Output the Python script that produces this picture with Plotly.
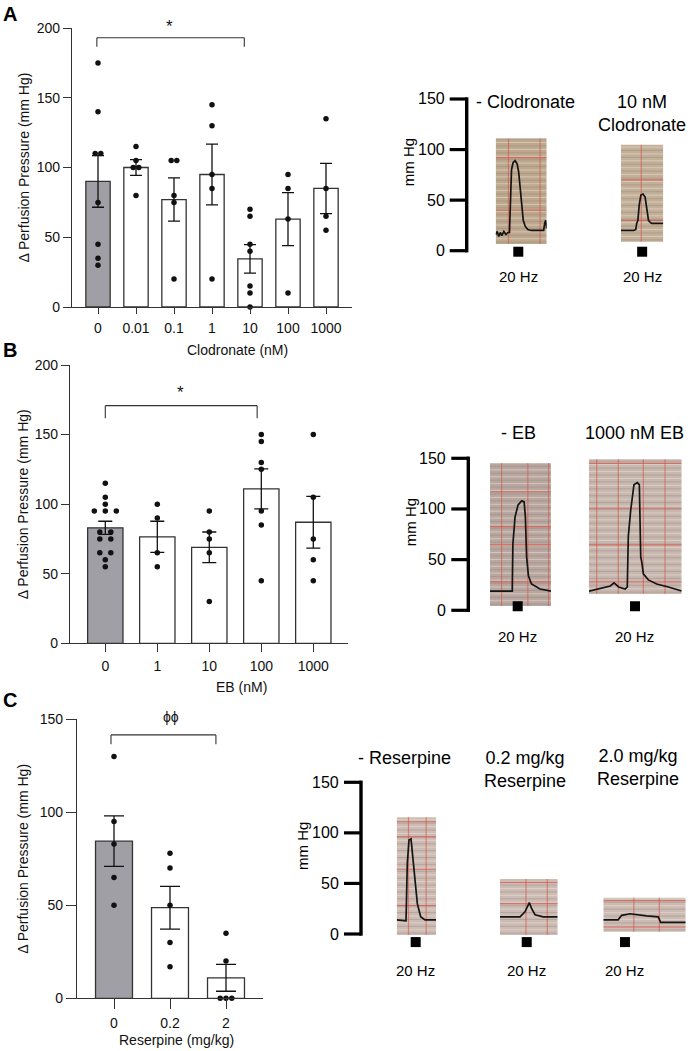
import plotly.graph_objects as go

W, H = 692, 1051
FONT = "Liberation Sans, Arial, Helvetica, sans-serif"
INK = "#111111"
EDGE = "#333333"
GRAY = "#a09fa6"

# --- Panel A: clodronate (nM) ---
clod_labels = ["0", "0.01", "0.1", "1", "10", "100", "1000"]
clod_mean = [90, 100, 77, 95, 34.5, 63, 85]
clod_sem = [18.5, 5.6, 15.5, 21.8, 10.2, 19, 18]
clod_points = [
    [175, 140, 110, 110, 75, 45, 35, 30],
    [115, 105, 100, 100, 80],
    [105, 105, 80, 75, 20],
    [145, 130, 95, 85, 20],
    [70, 65, 45, 40, 15, 10, 0],
    [95, 85, 63, 10],
    [135, 85, 65, 55],
]

# --- Panel B: EB (nM) ---
eb_labels = ["0", "1", "10", "100", "1000"]
eb_mean = [83, 76.5, 69, 111, 87]
eb_sem = [4.7, 11.2, 11, 14.4, 18.6]
eb_points = [
    [115, 105, 100, 95, 95, 95, 80, 80, 75, 75, 65, 65, 60, 55],
    [100, 90, 65, 55],
    [95, 80, 75, 65, 30],
    [150, 145, 130, 125, 95, 85, 45],
    [150, 105, 75, 60, 45],
]

# --- Panel C: reserpine (mg/kg) ---
res_labels = ["0", "0.2", "2"]
res_mean = [84.5, 48.7, 11]
res_sem = [13.6, 11.5, 7.2]
res_points = [
    [130, 95, 83, 65, 50],
    [78, 70, 50, 30, 17],
    [35, 20, 0, 0, 0],
]

# --- recorder traces (t = fraction of strip width, p = mm Hg) ---
a1_t = [0.00, 0.03, 0.06, 0.09, 0.12, 0.16, 0.20, 0.24, 0.27, 0.29, 0.31, 0.34, 0.38,
        0.42, 0.45, 0.48, 0.51, 0.54, 0.58, 0.63, 0.70, 0.80, 0.90, 0.94, 0.96, 0.98, 1.00]
a1_p = [16, 19, 14, 18, 15, 19, 16, 18, 18, 50, 80, 87, 89,
        86, 78, 62, 42, 30, 24, 21, 20, 20, 20, 20, 27, 30, 22]
a2_t = [0, 0.1, 0.2, 0.3, 0.35, 0.37, 0.40, 0.43, 0.47, 0.52, 0.57, 0.61, 0.65, 0.69, 0.73, 0.8, 0.9, 1.0]
a2_p = [20, 20, 20, 20, 21, 27, 30, 45, 55, 56, 53, 40, 30, 28, 27, 27, 27, 27]
b1_t = [0, 0.15, 0.30, 0.365, 0.375, 0.39, 0.41, 0.46, 0.52, 0.56, 0.58, 0.60, 0.63, 0.68, 0.82, 1.0]
b1_p = [19, 19, 19, 19, 65, 82, 92, 104, 108, 107, 92, 53, 34, 26, 21, 19]
b2_t = [0, 0.12, 0.23, 0.27, 0.32, 0.39, 0.413, 0.424, 0.45, 0.485, 0.521, 0.543,
        0.558, 0.572, 0.586, 0.64, 0.73, 0.856, 1.0]
b2_p = [19, 22, 24, 27, 23, 21, 23, 73, 99, 124, 126, 124, 53, 46, 36, 30, 26, 23, 19]
c1_t = [0, 0.237, 0.27, 0.313, 0.364, 0.407, 0.466, 0.525, 0.61, 0.72, 1.0]
c1_p = [14, 13, 70, 93, 94, 76, 53, 30, 17, 14, 14]
c2_t = [0, 0.347, 0.433, 0.508, 0.549, 0.607, 0.75, 1.0]
c2_p = [17, 17, 22, 31, 25, 19, 17, 17]
c3_t = [0, 0.18, 0.223, 0.324, 0.526, 0.667, 0.696, 1.0]
c3_p = [14, 14, 18.5, 20, 18, 17, 11.5, 11.5]

strip_titles = ["- Clodronate", "10 nM<br>Clodronate", "- EB", "1000 nM EB",
                "- Reserpine", "0.2 mg/kg<br>Reserpine", "2.0 mg/kg<br>Reserpine"]
stim_t = [0.443, 0.50, 0.454, 0.496, 0.483, 0.463, 0.263]
stim_label = "20 Hz"
scale_ticks = [0, 50, 100, 150]


def xdom(x0, x1):
    return [x0 / W, x1 / W]


def ydom(yb, yt):
    return [1 - yb / H, 1 - yt / H]


def jitter(vals, step):
    offs = []
    for i, v in enumerate(vals):
        same = [j for j, u in enumerate(vals) if u == v]
        offs.append((same.index(i) - (len(same) - 1) / 2) * step)
    return offs


fig = go.Figure()
layout = {}
annots = []
shapes = []

# ---------------- bar panels ----------------
bar_panels = [
    dict(n=1, labels=clod_labels, means=clod_mean, sems=clod_sem, points=clod_points,
         box=(72, 352, 307, 28), cat0=98, pitch=38, ymax=200, barw=0.64, cap=6, dot=5.6,
         tlx=6, tly=8, xtitle="Clodronate (nM)", xt=(237.5, 349.5)),
    dict(n=2, labels=eb_labels, means=eb_mean, sems=eb_sem, points=eb_points,
         box=(70, 348, 643.3, 365), cat0=105.3, pitch=52, ymax=200, barw=0.68, cap=7, dot=11,
         tlx=8, tly=8, xtitle="EB (nM)", xt=(241.7, 687)),
    dict(n=3, labels=res_labels, means=res_mean, sems=res_sem, points=res_points,
         box=(77, 263, 998.3, 719.3), cat0=114, pitch=56, ymax=150, barw=0.66, cap=10, dot=5.8,
         tlx=10, tly=10, xtitle="Reserpine (mg/kg)", xt=(176.7, 1040)),
]

for bp in bar_panels:
    k = bp["n"]
    sfx = "" if k == 1 else str(k)
    xa, ya = "x" + sfx, "y" + sfx
    n = len(bp["labels"])
    x0, x1, yb, yt = bp["box"]
    fig.add_trace(go.Bar(
        x=list(range(n)), y=bp["means"], width=bp["barw"],
        marker=dict(color=[GRAY] + ["white"] * (n - 1), line=dict(color=EDGE, width=1.3)),
        error_y=dict(type="data", array=bp["sems"], visible=True, color=INK,
                     thickness=1.3, width=bp["cap"]),
        xaxis=xa, yaxis=ya, showlegend=False, hoverinfo="skip"))
    xs, ys = [], []
    for i, vals in enumerate(bp["points"]):
        for off, v in zip(jitter(vals, bp["dot"] / bp["pitch"]), vals):
            xs.append(i + off)
            ys.append(v)
    fig.add_trace(go.Scatter(x=xs, y=ys, mode="markers", marker=dict(size=5.5, color=INK),
                             cliponaxis=False, xaxis=xa, yaxis=ya, showlegend=False,
                             hoverinfo="skip"))
    r0 = -(bp["cat0"] - x0) / bp["pitch"]
    r1 = (x1 - bp["cat0"]) / bp["pitch"]
    layout["xaxis" + sfx] = dict(
        domain=xdom(x0, x1), range=[r0, r1], anchor=ya, automargin=False,
        tickvals=list(range(n)), ticktext=bp["labels"], ticks="outside",
        ticklen=bp["tlx"], tickwidth=1.2, tickcolor=EDGE, showline=True,
        linecolor=EDGE, linewidth=1.2, showgrid=False, zeroline=False,
        tickfont=dict(size=14, color=INK), ticklabelstandoff=2, fixedrange=True)
    layout["yaxis" + sfx] = dict(
        domain=ydom(yb, yt), range=[0, bp["ymax"]], anchor=xa, automargin=False,
        tickvals=list(range(0, bp["ymax"] + 1, 50)), ticks="outside",
        ticklen=bp["tly"], tickwidth=1.2, tickcolor=EDGE, showline=True,
        linecolor=EDGE, linewidth=1.2, showgrid=False, zeroline=False,
        tickfont=dict(size=14, color=INK), fixedrange=True)
    annots.append(dict(text="\u0394 Perfusion Pressure (mm Hg)", xref="paper", yref="paper",
                       x=23 / W, y=1 - (yb + yt) / 2 / H, textangle=-90, showarrow=False,
                       font=dict(size=14, color=INK), xanchor="center", yanchor="middle"))
    annots.append(dict(text=bp["xtitle"], xref="paper", yref="paper",
                       x=bp["xt"][0] / W, y=1 - bp["xt"][1] / H, showarrow=False,
                       font=dict(size=14, color=INK), xanchor="center", yanchor="middle"))

# significance brackets: (axis suffix, x0, x1, y, drop, label, label x, label y, size)
brackets = [
    ("", -0.03, 3.85, 193, 6.5, "*", 1.87, 201, 17),
    ("2", 0.0, 2.92, 170.8, 9, "*", 1.44, 180, 17),
    ("3", -0.054, 1.82, 141.6, 5, "\u03d5\u03d5", 1.01, 151.4, 14),
]
ymax_of = {"": 200, "2": 200, "3": 150}
for sfx, bx0, bx1, by, drop, lab, lx, ly, fs in brackets:
    xr, yr = "x" + sfx, "y" + sfx
    for a, b, c, d in [(bx0, by, bx1, by), (bx0, by, bx0, by - drop), (bx1, by, bx1, by - drop)]:
        shapes.append(dict(type="line", xref=xr, yref=yr, x0=a, y0=b, x1=c, y1=d,
                           line=dict(color=EDGE, width=1.1)))
    # label may sit above the axis range, so place it on the axis domain
    annots.append(dict(text=lab, xref=xr, yref=yr + " domain", x=lx, y=ly / ymax_of[sfx],
                       showarrow=False, font=dict(size=fs, color=INK),
                       xanchor="center", yanchor="middle"))

# panel letters
for lab, yc in [("A", 13.5), ("B", 349.7), ("C", 700)]:
    annots.append(dict(text="<b>%s</b>" % lab, xref="paper", yref="paper", x=1 / W,
                       y=1 - yc / H, showarrow=False, font=dict(size=20, color="black"),
                       xanchor="left", yanchor="middle"))

# ---------------- recorder strips ----------------
# zero / 150 pixel rows of each mm Hg scale bar and the extended row box
rows = {
    4: dict(zero=250.7, top150=99, box=(300, 80), xpos=466.7, mmhg_x=408.5, stim_y=-1, hz_y=-26),
    5: dict(zero=610.3, top150=458.3, box=(660, 415), xpos=468.3, mmhg_x=410, stim_y=4, hz_y=-26),
    6: dict(zero=934, top150=782.3, box=(1000, 740), xpos=361, mmhg_x=302, stim_y=-8, hz_y=-36.5),
}
for r, cfg in rows.items():
    ppu = (cfg["zero"] - cfg["top150"]) / 150.0
    yb, yt = cfg["box"]
    layout["yaxis%d" % r] = dict(
        domain=ydom(yb, yt), range=[(cfg["zero"] - yb) / ppu, (cfg["zero"] - yt) / ppu],
        anchor="free", position=0, visible=False, fixedrange=True, automargin=False)
    yr = "y%d" % r
    xp = cfg["xpos"] / W
    half = 1.7 / ppu
    shapes.append(dict(type="line", xref="paper", yref=yr, x0=xp, x1=xp,
                       y0=scale_ticks[0] - half, y1=scale_ticks[-1] + half,
                       line=dict(color="black", width=3.4)))
    for tv in scale_ticks:
        shapes.append(dict(type="line", xref="paper", yref=yr, x0=(cfg["xpos"] - 17) / W,
                           x1=xp, y0=tv, y1=tv, line=dict(color="black", width=3.2)))
        annots.append(dict(text=str(tv), xref="paper", yref=yr, x=(cfg["xpos"] - 20) / W,
                           y=tv, showarrow=False, font=dict(size=16, color="black"),
                           xanchor="right", yanchor="middle"))
    annots.append(dict(text="mm Hg", xref="paper", yref=yr, x=cfg["mmhg_x"] / W,
                       y=87, textangle=-90, showarrow=False, font=dict(size=15, color="black"),
                       xanchor="center", yanchor="middle"))

strips = [
    dict(row=4, xa=4, px=(495.7, 546.7), bot=6.6, top=111, fill="#bba88f",
         vl=[0.25, 0.87], hl=[92, 40], title=(0.584, 147)),
    dict(row=4, xa=5, px=(621, 663.3), bot=8.9, top=104.7, fill="#c1b09a",
         vl=[0.48], hl=[70, 30], title=(0.5, 135.6)),
    dict(row=5, xa=6, px=(490, 551), bot=4.2, top=145.2, fill="#b7a7a1",
         vl=[0.19, 0.62, 0.96], hl=[117, 82.5, 64.5, 28], title=(0.46, 175)),
    dict(row=5, xa=7, px=(589, 681.7), bot=16.1, top=149, fill="#c6b8b0",
         vl=[0.083, 0.316, 0.586, 0.82], hl=[145, 100.7, 64.5, 28], title=(0.496, 175)),
    dict(row=6, xa=8, px=(396.7, 436), bot=-1, top=115.4, fill="#cbbcb5",
         vl=[0.3, 0.75], hl=[111, 96, 64, 28], title=(0.21, 173.8)),
    dict(row=6, xa=9, px=(500, 557.7), bot=-1, top=54.4, fill="#cbbcb5",
         vl=[0.45, 0.82], hl=[51, 30], title=(0.433, 162.5)),
    dict(row=6, xa=10, px=(603.3, 685.7), bot=2.3, top=35.9, fill="#cbbcb5",
         vl=[0.37, 0.68], hl=[33, 7], title=(0.425, 164.7)),
]
traces = [(a1_t, a1_p), (a2_t, a2_p), (b1_t, b1_p), (b2_t, b2_p),
          (c1_t, c1_p), (c2_t, c2_p), (c3_t, c3_p)]

for s, (tt, pp), title, st in zip(strips, traces, strip_titles, stim_t):
    xr, yr = "x%d" % s["xa"], "y%d" % s["row"]
    layout["xaxis%d" % s["xa"]] = dict(domain=xdom(*s["px"]), range=[0, 1], anchor=yr,
                                       visible=False, fixedrange=True, automargin=False)
    shapes.append(dict(type="rect", xref=xr, yref=yr, x0=0, x1=1, y0=s["bot"], y1=s["top"],
                       fillcolor=s["fill"], line=dict(width=0), layer="below"))
    # fine chart-paper rulings
    y = s["bot"] + 1.8
    k = 0
    while y < s["top"] - 0.5:
        shapes.append(dict(type="line", xref=xr, yref=yr, x0=0, x1=1, y0=y, y1=y,
                           line=dict(color="rgba(238,222,208,0.55)" if k % 2 else
                                     "rgba(150,120,105,0.35)", width=1), layer="below"))
        y += 3.4
        k += 1
    for hy in s["hl"]:
        shapes.append(dict(type="line", xref=xr, yref=yr, x0=0, x1=1, y0=hy, y1=hy,
                           line=dict(color="rgba(214,82,72,0.7)", width=1.2), layer="below"))
    for vx in s["vl"]:
        shapes.append(dict(type="line", xref=xr, yref=yr, x0=vx, x1=vx, y0=s["bot"],
                           y1=s["top"], line=dict(color="rgba(214,82,72,0.6)", width=1.2),
                           layer="below"))
    fig.add_trace(go.Scatter(x=tt, y=pp, mode="lines", line=dict(color="#141414", width=1.7),
                             xaxis=xr, yaxis=yr, showlegend=False, hoverinfo="skip"))
    cfg = rows[s["row"]]
    fig.add_trace(go.Scatter(x=[st], y=[cfg["stim_y"]], mode="markers",
                             marker=dict(symbol="square", size=10, color="black"),
                             cliponaxis=False, xaxis=xr, yaxis=yr, showlegend=False,
                             hoverinfo="skip"))
    annots.append(dict(text=stim_label, xref=xr, yref=yr, x=st, y=cfg["hz_y"],
                       showarrow=False, font=dict(size=15, color="black"),
                       xanchor="center", yanchor="middle"))
    annots.append(dict(text=title, xref=xr, yref=yr, x=s["title"][0], y=s["title"][1],
                       showarrow=False, font=dict(size=18, color="black"),
                       xanchor="center", yanchor="middle", align="center"))

fig.update_layout(
    template="none",
    width=W, height=H, margin=dict(l=0, r=0, t=0, b=0, pad=0, autoexpand=False),
    autosize=False, paper_bgcolor="white", plot_bgcolor="rgba(0,0,0,0)",
    font=dict(family=FONT, color=INK), showlegend=False,
    annotations=annots, shapes=shapes, **layout)

# pin the plot to the top-left corner of the page
pin = ("document.body.style.margin='0px';"
       "var d=document.getElementById('{plot_id}');"
       "d.style.position='fixed';d.style.left='0px';d.style.top='0px';")
fig.write_html("out.html", config={"displayModeBar": False, "responsive": False},
               post_script=pin)
